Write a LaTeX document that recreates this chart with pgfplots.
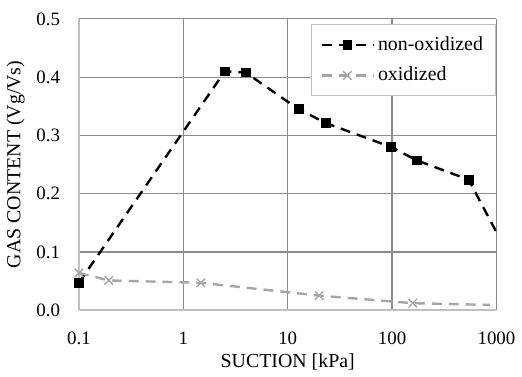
\documentclass[border=0pt]{standalone}
\usepackage{pgfplots}
\pgfplotsset{compat=1.18}
\usepackage{fontspec}
\setmainfont{Liberation Serif}
\definecolor{gridc}{HTML}{8C8C8C}
\definecolor{axc}{HTML}{C0C0C0}
\definecolor{oxc}{HTML}{A6A6A6}
\begin{document}
\begin{tikzpicture}
\begin{axis}[
  scale only axis, width=210pt, height=146.5pt,
  xmode=log, xmin=0.1, xmax=1000,
  ymin=0, ymax=0.5,
  xtick={0.1,1,10,100,1000}, xticklabels={0.1,1,10,100,1000},
  ytick={0,0.1,0.2,0.3,0.4,0.5},
  yticklabel style={/pgf/number format/fixed,/pgf/number format/precision=1,/pgf/number format/fixed zerofill},
  /pgf/number format/assume math mode=true,
  log basis x=10,
  minor xtick={},
  major tick length=0pt, minor tick length=0pt,
  grid=major, major grid style={gridc, line width=0.6pt},
  axis x line*=bottom, axis y line*=left,
  axis line style={axc, line width=0.8pt, -},
  tick label style={font=\fontsize{9.5}{11}\selectfont, black},
  xticklabel style={yshift=-7.5pt},
  yticklabel style={xshift=-6pt},
  xlabel={SUCTION [kPa]}, ylabel={GAS CONTENT (Vg/Vs)},
  label style={font=\fontsize{10}{12}\selectfont},
  xlabel style={yshift=2.5pt},
  ylabel style={yshift=-1pt},
  legend style={at={(1,0.983)}, anchor=north east, draw=axc, line width=0.6pt, font=\fontsize{10}{12}\selectfont, row sep=3pt, inner xsep=4.5pt, inner ysep=4pt, fill=white},
  legend cell align=left,
  legend image code/.code={\draw[mark indices={2}] plot coordinates {(0cm,0cm)(0.45cm,0cm)(0.9cm,0cm)};},
  clip=true,
]
\addplot[black, line width=1.2pt, dash pattern=on 5pt off 3.5pt, mark=square*, mark size=2.2pt, mark options={solid, line width=0.4pt}, mark indices={1,...,8}]
  coordinates {(0.1,0.047) (2.5,0.410) (3.95,0.408) (12.7,0.345) (23.3,0.321) (98,0.280) (173,0.257) (541,0.224) (2000,0.032)};
\addlegendentry{non-oxidized}
\addplot[oxc, line width=1.2pt, dash pattern=on 5pt off 3.5pt, mark=x, mark size=3pt, mark options={solid, line width=0.7pt}, mark indices={1,...,5}]
  coordinates {(0.1,0.064) (0.193,0.051) (1.47,0.047) (20,0.025) (158,0.012) (863,0.009)};
\addlegendentry{oxidized}
\end{axis}
\path ([yshift=9.5pt]current axis.north west);
\end{tikzpicture}
\end{document}
